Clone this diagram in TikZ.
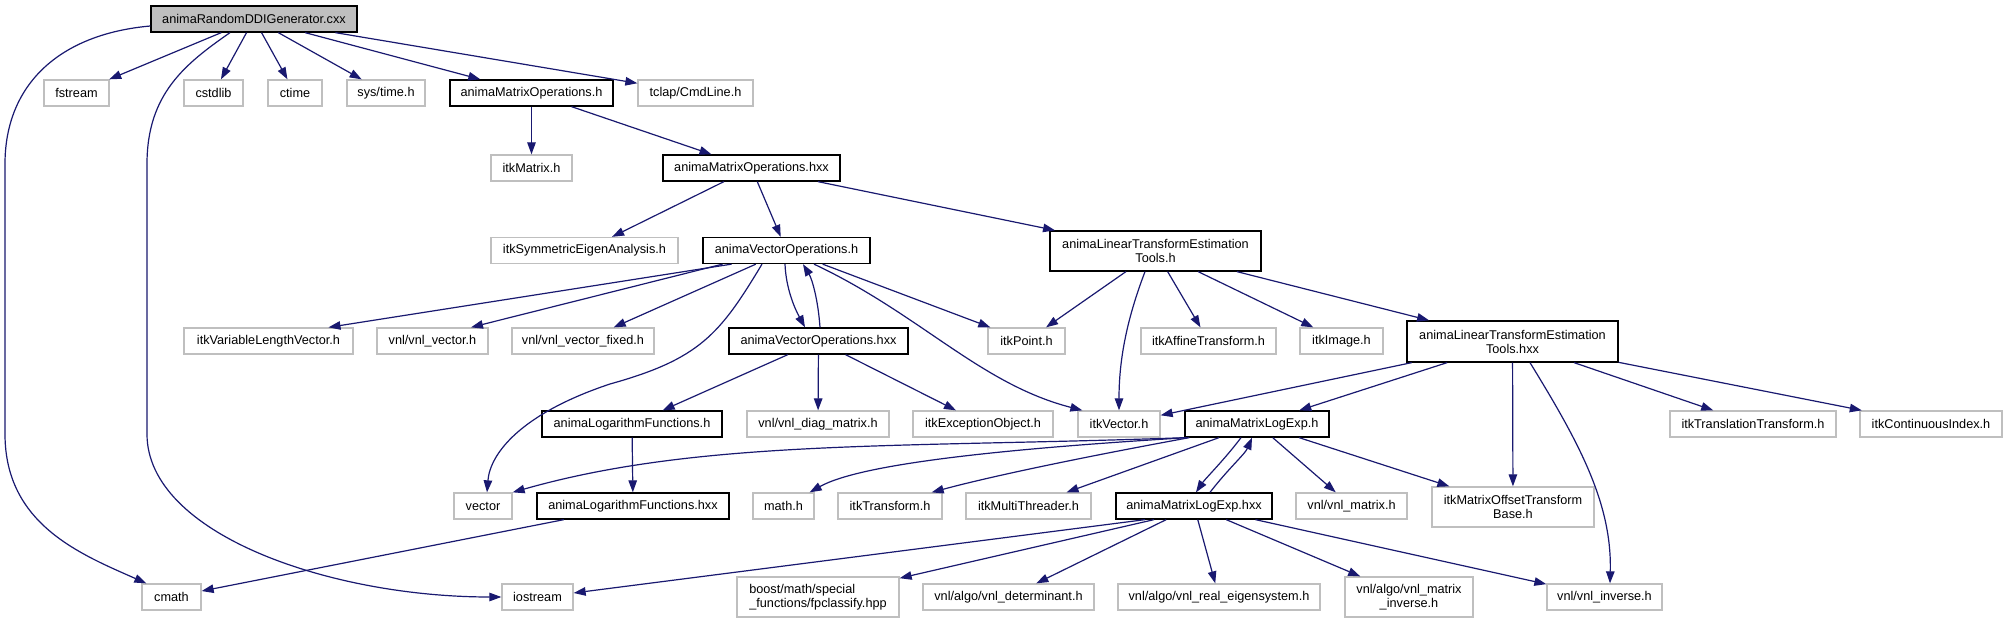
\documentclass[tikz,border=0pt]{standalone}
\usepackage{fontspec}
\setmainfont{Liberation Sans}
\usetikzlibrary{arrows.meta,calc}
\definecolor{edgec}{HTML}{191970}
\definecolor{extc}{HTML}{BFBFBF}
\begin{document}
\begin{tikzpicture}[x=1pt,y=1pt,
  box/.style={font=\fontsize{12.7}{14}\selectfont, inner sep=0pt, minimum height=26pt, line width=1.3pt},
  ext/.style={box, draw=extc},
  doc/.style={box, draw=black},
  dep/.style={draw=edgec, line width=1.2pt, -{Triangle[length=12pt,width=8.5pt]}},
]
\useasboundingbox (0,0) rectangle (2008,624);
\fill[white] (0,0) rectangle (2008,624);

% nodes
\node[doc, fill=extc, minimum width=206] (root) at (254,605) {animaRandomDDIGenerator.cxx};
\node[ext, minimum width=65] (fstream) at (76.5,531) {fstream};
\node[ext, minimum width=59] (cstdlib) at (213.5,531) {cstdlib};
\node[ext, minimum width=54] (ctime) at (295,531) {ctime};
\node[ext, minimum width=78] (systime) at (386,531) {sys/time.h};
\node[doc, minimum width=163] (amoh) at (531.5,531) {animaMatrixOperations.h};
\node[ext, minimum width=115] (tclap) at (695.5,531) {tclap/CmdLine.h};
\node[ext, minimum width=81] (itkmatrix) at (531.5,456) {itkMatrix.h};
\node[doc, minimum width=177] (amohxx) at (751.5,456) {animaMatrixOperations.hxx};
\node[ext, minimum width=187] (itksym) at (584.5,373.5) {itkSymmetricEigenAnalysis.h};
\node[doc, minimum width=167] (avoh) at (786.5,373.5) {animaVectorOperations.h};
\node[doc, minimum width=211, minimum height=40, align=center] (alteh) at (1155.5,373) {animaLinearTransformEstimation\\Tools.h};
\node[ext, minimum width=169] (itkvlv) at (268.5,283) {itkVariableLengthVector.h};
\node[ext, minimum width=111] (vnlvec) at (432.5,283) {vnl/vnl\_vector.h};
\node[ext, minimum width=142] (vnlvecfix) at (583,283) {vnl/vnl\_vector\_fixed.h};
\node[doc, minimum width=179] (avohxx) at (818.5,283) {animaVectorOperations.hxx};
\node[ext, minimum width=77] (itkpoint) at (1026.5,283) {itkPoint.h};
\node[ext, minimum width=135] (itkaffine) at (1208.5,283) {itkAffineTransform.h};
\node[ext, minimum width=83] (itkimage) at (1341.5,283) {itkImage.h};
\node[doc, minimum width=211, minimum height=41, align=center] (altehxx) at (1512.5,282.5) {animaLinearTransformEstimation\\Tools.hxx};
\node[doc, minimum width=180] (alfh) at (632,200) {animaLogarithmFunctions.h};
\node[ext, minimum width=142] (vnldiag) at (818,200) {vnl/vnl\_diag\_matrix.h};
\node[ext, minimum width=140] (itkexc) at (983,200) {itkExceptionObject.h};
\node[ext, minimum width=82] (itkvector) at (1119,200) {itkVector.h};
\node[doc, minimum width=144] (amleh) at (1257,200) {animaMatrixLogExp.h};
\node[ext, minimum width=166] (itktransl) at (1753,200) {itkTranslationTransform.h};
\node[ext, minimum width=142] (itkcont) at (1931,200) {itkContinuousIndex.h};
\node[ext, minimum width=58] (vector) at (483,118) {vector};
\node[doc, minimum width=192] (alfhxx) at (633,118) {animaLogarithmFunctions.hxx};
\node[ext, minimum width=61] (mathh) at (783.5,118) {math.h};
\node[ext, minimum width=104] (itktransform) at (890,118) {itkTransform.h};
\node[ext, minimum width=125] (itkmt) at (1028.5,118) {itkMultiThreader.h};
\node[doc, minimum width=156] (amlehxx) at (1194,118) {animaMatrixLogExp.hxx};
\node[ext, minimum width=111] (vnlmatrix) at (1351.5,118) {vnl/vnl\_matrix.h};
\node[ext, minimum width=162, minimum height=40, align=center] (itkmotb) at (1513,117) {itkMatrixOffsetTransform\\Base.h};
\node[ext, minimum width=59] (cmath) at (171.5,27) {cmath};
\node[ext, minimum width=71] (iostream) at (537.5,27) {iostream};
\node[ext, minimum width=162, minimum height=40, align=left] (boost) at (818,27) {boost/math/special\\\_functions/fpclassify.hpp};
\node[ext, minimum width=171] (vnldet) at (1008.5,27) {vnl/algo/vnl\_determinant.h};
\node[ext, minimum width=202] (vnlreal) at (1219,27) {vnl/algo/vnl\_real\_eigensystem.h};
\node[ext, minimum width=128, minimum height=40, align=center] (vnlmatinv) at (1409,27) {vnl/algo/vnl\_matrix\\\_inverse.h};
\node[ext, minimum width=115] (vnlinv) at (1604.5,27) {vnl/vnl\_inverse.h};

% root edges
\draw[dep] ([yshift=-7]root.west) .. controls (60,590) and (5,540) .. (5,460) -- (5,190) .. controls (5,100) and (80,70) .. ([xshift=5]cmath.north west);
\draw[dep] (root) -- (fstream);
\draw[dep] ([xshift=-24]root.south) .. controls (185,560) and (147,530) .. (147,460) -- (147,190) .. controls (147,90) and (330,27) .. (iostream.west);
\draw[dep] (root) -- (cstdlib);
\draw[dep] (root) -- (ctime);
\draw[dep] (root) -- (systime);
\draw[dep] (root) -- (amoh);
\draw[dep] (root) -- (tclap);

% animaMatrixOperations
\draw[dep] (amoh) -- (itkmatrix);
\draw[dep] (amoh) -- (amohxx);
\draw[dep] (amohxx) -- (itksym);
\draw[dep] (amohxx) -- (avoh);
\draw[dep] (amohxx) -- (alteh);

% animaVectorOperations.h
\draw[dep] ([xshift=-55]avoh.south) -- ([xshift=60]itkvlv.north);
\draw[dep] ([xshift=-64]avoh.south) -- ([xshift=38.5]vnlvec.north);
\draw[dep] (avoh) -- (vnlvecfix);
\draw[dep] ([xshift=-24.5]avoh.south) .. controls (720,290) and (700,265) .. (610,240) .. controls (520,210) and (490,170) .. ([xshift=4]vector.north);
\draw[dep] ([xshift=-1.5]avoh.south) .. controls (786,335) and (795,315) .. ([xshift=-13.5]avohxx.north);
\draw[dep] ([xshift=1.5]avohxx.north) .. controls (818,325) and (812,345) .. ([xshift=16.5]avoh.south);
\draw[dep] (avoh) -- (itkpoint);
\draw[dep] ([xshift=27.5]avoh.south) .. controls (920,310) and (980,240) .. ([xshift=5]itkvector.north west);

% animaVectorOperations.hxx
\draw[dep] (avohxx) -- (alfh);
\draw[dep] (avohxx) -- (vnldiag);
\draw[dep] (avohxx) -- (itkexc);

% logarithm functions
\draw[dep] (alfh) -- (alfhxx);
\draw[dep] (alfhxx) -- (cmath);

% animaLinearTransformEstimationTools.h
\draw[dep] (alteh) -- (itkpoint);
\draw[dep] ([xshift=-10.5]alteh.south) .. controls (1125,300) and (1119,260) .. (itkvector.north);
\draw[dep] (alteh) -- (itkaffine);
\draw[dep] (alteh) -- (itkimage);
\draw[dep] (alteh) -- (altehxx);

% animaLinearTransformEstimationTools.hxx
\draw[dep] (altehxx) -- (itkvector);
\draw[dep] (altehxx) -- (amleh);
\draw[dep] (altehxx) -- (itkmotb);
\draw[dep] ([xshift=17.5]altehxx.south) .. controls (1580,180) and (1612,120) .. ([xshift=5.5]vnlinv.north);
\draw[dep] (altehxx) -- (itktransl);
\draw[dep] (altehxx) -- (itkcont);

% animaMatrixLogExp.h
\draw[dep] ([xshift=1]amleh.south west) .. controls (900,176) and (700,185) .. (vector.north east);
\draw[dep] ([xshift=3]amleh.south west) .. controls (1000,175) and (860,160) .. ([xshift=-5]mathh.north east);
\draw[dep] ([xshift=5]amleh.south west) .. controls (1100,170) and (1000,150) .. ([xshift=-11]itktransform.north east);
\draw[dep] (amleh) -- (itkmt);
\draw[dep] ([xshift=-16]amleh.south) .. controls (1225,165) and (1205,145) .. ([xshift=2]amlehxx.north);
\draw[dep] ([xshift=16]amlehxx.north) .. controls (1228,155) and (1245,170) .. ([xshift=-5]amleh.south);
\draw[dep] (amleh) -- (vnlmatrix);
\draw[dep] (amleh) -- (itkmotb);

% animaMatrixLogExp.hxx
\draw[dep] ([xshift=-49]amlehxx.south) -- ([yshift=4]iostream.east);
\draw[dep] ([xshift=-40]amlehxx.south) -- (boost);
\draw[dep] (amlehxx) -- (vnldet);
\draw[dep] (amlehxx) -- (vnlreal);
\draw[dep] (amlehxx) -- (vnlmatinv);
\draw[dep] (amlehxx) -- (vnlinv);
\end{tikzpicture}
\end{document}
